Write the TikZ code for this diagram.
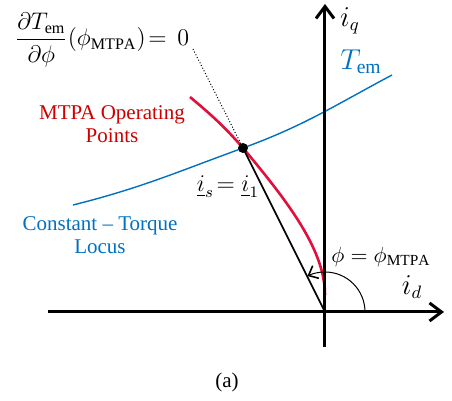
\documentclass[tikz,border=0pt]{standalone}
\usepackage{amsmath}
\usepackage{fontspec}
\setmainfont{Liberation Serif}
\usetikzlibrary{arrows.meta, positioning}
\definecolor{torqueblue}{RGB}{0,112,192}
\definecolor{mtpared}{RGB}{225,15,60}
\definecolor{mtpatext}{RGB}{204,0,0}

\begin{document}
\begin{tikzpicture}[
        x=0.5pt, y=0.5pt,
        axis/.style={line width=1.5pt, -{Straight Barb[length=6pt, width=9pt, line width=1.5pt]}},
        curve/.style={line width=1.3pt, draw=mtpared},
        locus/.style={line width=0.7pt, draw=torqueblue},
        vec/.style={line width=0.8pt},
        lbl/.style={font=\fontsize{11.5}{13}\selectfont, inner sep=0pt},
        axlbl/.style={font=\fontsize{13.5}{15}\selectfont, inner sep=0pt},
        txt/.style={font=\fontsize{10.5}{11.5}\selectfont, align=center, inner sep=0pt}
    ]
    \useasboundingbox (0,0) rectangle (452,401);
    % Coordinates
    \coordinate (O) at (325,89);
    \coordinate (P) at (243,253);
    \coordinate (xs) at (48,89);
    \coordinate (xe) at (444,89);
    \coordinate (ys) at (325,54);
    \coordinate (ye) at (325,397);
    \coordinate (mtop) at (190,304);
    \coordinate (mbot) at (325,106);
    \coordinate (lstart) at (73,196);
    \coordinate (lend) at (392,326);
    \coordinate (hint) at (193,352);

    % Curves
    \draw [locus] (lstart) to[out=14, in=200] (P) to[out=20, in=208] (lend);
    \draw [curve] (mtop) to[out=-40, in=131] (P) .. controls (290,197) and (325,150) .. (mbot);

    % Axes
    \draw [axis] (xs) -- (xe);
    \draw [axis] (ys) -- (ye);

    % Current vector and angle
    \draw [vec] (P) -- (O);
    \draw [line width=0.5pt, -{Straight Barb[length=4pt, width=7pt, line width=0.8pt]}]
        ([shift={(40,0)}]O) arc[start angle=0, end angle=116, radius=40];
    \draw [densely dotted, line width=0.5pt] (hint) -- (P);
    \fill (P) circle[radius=5];

    % Nodes
    \node (iq) [axlbl] at (350,380) {$i_q$};
    \node (id) [axlbl] at (412,114) {$i_d$};
    \node (tem) [lbl, text=torqueblue, font=\fontsize{14}{16}\selectfont] at (361,339) {$T_{\mathrm{em}}$};
    \node (phi) [lbl, font=\fontsize{11}{13}\selectfont] at (381,144) {$\phi=\phi_{\mathrm{MTPA}}$};
    \node (is) [lbl] at (228,214) {$\underline{i}_s\!=\underline{i}_1$};
    \node (cond) [lbl] at (102,361) {$\dfrac{\partial T_{\mathrm{em}}}{\partial\phi}(\phi_{\mathrm{MTPA}})\!=\,0$};
    \node (mtpa) [txt, text=mtpatext] at (112,277) {MTPA Operating\\Points};
    \node (ctl) [txt, text=torqueblue] at (100,166) {Constant -- Torque\\Locus};
    \node (cap) [txt] at (227,19) {(a)};
\end{tikzpicture}
\end{document}
